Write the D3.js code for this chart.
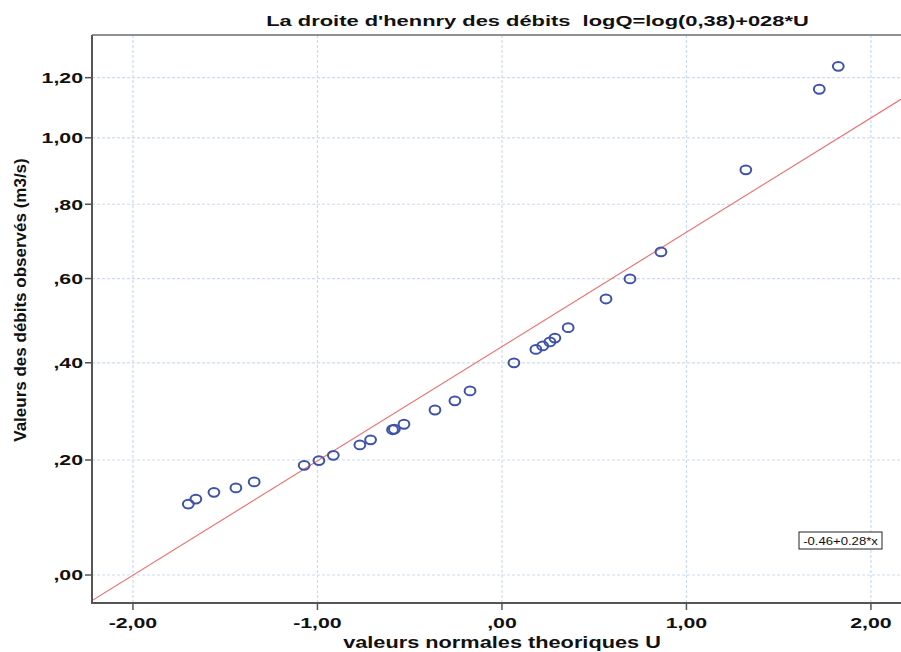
<!DOCTYPE html>
<html>
<head>
<meta charset="utf-8">
<script src="https://cdn.jsdelivr.net/npm/d3@7"></script>
<style>
  html, body { margin: 0; padding: 0; background: #fff; }
  svg { display: block; }
  text { font-family: "Liberation Sans", Arial, sans-serif; }
</style>
</head>
<body>
<svg id="chart" width="901" height="652"></svg>
<script>
// ---- data ----
const chartTitle = "La droite d'hennry des débits  logQ=log(0,38)+028*U";
const xTitle = "valeurs normales theoriques U";
const yTitle = "Valeurs des débits observés (m3/s)";
const fitLabel = "-0.46+0.28*x";

// theoretical normal values U
const uValues = [-1.700, -1.659, -1.561, -1.442, -1.343, -1.072, -0.992, -0.914,
  -0.770, -0.712, -0.593, -0.583, -0.531, -0.363, -0.255, -0.173,
  0.065, 0.184, 0.221, 0.260, 0.287, 0.359, 0.564, 0.694, 0.862, 1.322, 1.720, 1.823];
// observed discharges (m3/s)
const qValues = [0.119, 0.128, 0.140, 0.148, 0.159, 0.190, 0.199, 0.209,
  0.229, 0.239, 0.259, 0.260, 0.270, 0.299, 0.318, 0.339,
  0.400, 0.430, 0.438, 0.447, 0.456, 0.480, 0.549, 0.599, 0.669, 0.901, 1.160, 1.240];

const xTicks = [-2, -1, 0, 1, 2];
const xTickLabels = ["-2,00", "-1,00", ",00", "1,00", "2,00"];
const yTicks = [0, 0.2, 0.4, 0.6, 0.8, 1.0, 1.2];
const yTickLabels = [",00", ",20", ",40", ",60", ",80", "1,00", "1,20"];

const xDomain = [-2.222, 2.163];
const yDomain = [-0.0434, 1.354];
// fitted line, expressed on the log10(1+Q) axis: a + b*U
const fitIntercept = 0.1573;
const fitSlope = 0.0787;

// ---- layout ----
const svg = d3.select("#chart");
const pLeft = 92, pTop = 35, pRight = 901, pBottom = 603;

const x = d3.scaleLinear().domain(xDomain).range([pLeft, pRight]);
const yLog = d3.scaleLog().domain(yDomain.map(v => 1 + v)).range([pBottom, pTop]);
const y = v => yLog(1 + v);

// helper: horizontally stretched text (the original chart uses a wide face)
function wideText(sel, tx, ty, sx) {
  return sel.append("text").attr("transform", `translate(${tx},${ty}) scale(${sx},1)`);
}

// gridlines
const grid = svg.append("g");
grid.selectAll("line.vg").data(xTicks).join("line")
  .attr("x1", d => x(d)).attr("x2", d => x(d))
  .attr("y1", pTop).attr("y2", pBottom)
  .attr("stroke", "#c9dcf2").attr("stroke-width", 1.2).attr("stroke-dasharray", "3,2");
grid.selectAll("line.hg").data(yTicks).join("line")
  .attr("x1", pLeft).attr("x2", pRight)
  .attr("y1", d => y(d)).attr("y2", d => y(d))
  .attr("stroke", "#c9dcf2").attr("stroke-width", 1.2).attr("stroke-dasharray", "3,2");

// fit line
svg.append("clipPath").attr("id", "plotclip")
  .append("rect").attr("x", pLeft).attr("y", pTop).attr("width", pRight - pLeft).attr("height", pBottom - pTop);
const fitPts = xDomain.map(u => [u, Math.pow(10, fitIntercept + fitSlope * u) - 1]);
svg.append("path")
  .attr("clip-path", "url(#plotclip)")
  .attr("d", d3.line().x(d => x(d[0])).y(d => y(d[1]))(fitPts))
  .attr("stroke", "#f06a6a").attr("stroke-width", 1.1).attr("fill", "none");

// points
const pts = uValues.map((u, i) => ({u, q: qValues[i]}));
svg.append("g").selectAll("ellipse").data(pts).join("ellipse")
  .attr("cx", d => x(d.u)).attr("cy", d => y(d.q))
  .attr("rx", 5.4).attr("ry", 4.4)
  .attr("fill", "none").attr("stroke", "#3d52a8").attr("stroke-width", 2);

// frame (top)
svg.append("line").attr("x1", pLeft).attr("x2", pRight + 2).attr("y1", pTop).attr("y2", pTop)
  .attr("stroke", "#6b6b6b").attr("stroke-width", 1.5);

// y axis
const yAxis = svg.append("g");
yAxis.append("line").attr("x1", pLeft).attr("x2", pLeft).attr("y1", pTop).attr("y2", pBottom + 1)
  .attr("stroke", "#555").attr("stroke-width", 2);
yAxis.selectAll("line.t").data(yTicks).join("line")
  .attr("x1", pLeft - 7).attr("x2", pLeft).attr("y1", d => y(d)).attr("y2", d => y(d))
  .attr("stroke", "#555").attr("stroke-width", 1.5);
yTicks.forEach((d, i) => {
  wideText(yAxis, pLeft - 9, y(d), 1.42)
    .attr("dy", "0.36em").attr("text-anchor", "end")
    .attr("font-size", 15).attr("font-weight", "bold").attr("fill", "#111")
    .text(yTickLabels[i]);
});

// x axis
const xAxis = svg.append("g");
xAxis.append("line").attr("x1", pLeft - 1).attr("x2", pRight + 2).attr("y1", pBottom).attr("y2", pBottom)
  .attr("stroke", "#555").attr("stroke-width", 2);
xAxis.selectAll("line.t").data(xTicks).join("line")
  .attr("x1", d => x(d)).attr("x2", d => x(d)).attr("y1", pBottom).attr("y2", pBottom + 7)
  .attr("stroke", "#555").attr("stroke-width", 1.5);
xTicks.forEach((d, i) => {
  wideText(xAxis, x(d), 628, 1.42)
    .attr("text-anchor", "middle").attr("font-size", 15).attr("font-weight", "bold").attr("fill", "#111")
    .text(xTickLabels[i]);
});

// titles
wideText(svg, 537.5, 26, 1.46).attr("text-anchor", "middle")
  .attr("font-size", 15).attr("font-weight", "bold").attr("fill", "#111")
  .style("white-space", "pre").text(chartTitle);
wideText(svg, 502, 648, 1.36).attr("text-anchor", "middle")
  .attr("font-size", 16).attr("font-weight", "bold").attr("fill", "#111")
  .text(xTitle);
svg.append("text").attr("transform", "translate(26,300) rotate(-90)").attr("text-anchor", "middle")
  .attr("font-size", 17).attr("font-weight", "bold").attr("fill", "#111")
  .style("font-family", "'Liberation Sans Narrow', 'Arial Narrow', sans-serif")
  .text(yTitle);

// fit label box
const lx = 799, ly = 532;
svg.append("rect").attr("x", lx).attr("y", ly).attr("width", 83).attr("height", 17)
  .attr("fill", "#fff").attr("stroke", "#222").attr("stroke-width", 1);
wideText(svg, lx + 41.5, ly + 12.5, 1.25).attr("text-anchor", "middle")
  .attr("font-size", 10.5).attr("fill", "#111").text(fitLabel);
</script>
</body>
</html>
